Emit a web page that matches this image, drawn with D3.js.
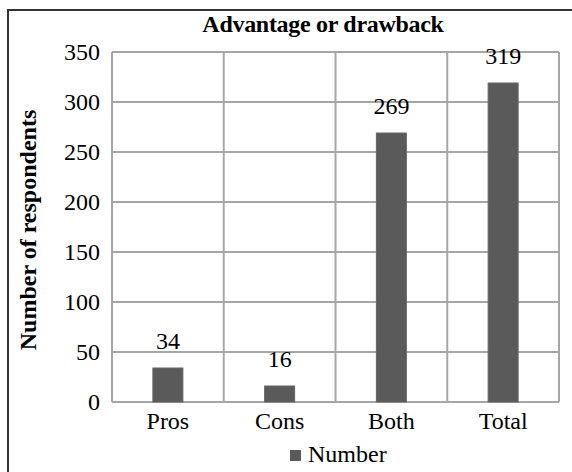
<!DOCTYPE html>
<html>
<head>
<meta charset="utf-8">
<script src="https://cdn.jsdelivr.net/npm/d3@7"></script>
<style>
  html, body { margin: 0; padding: 0; background: #fff; }
  svg { display: block; }
  text { font-family: "Liberation Serif", "Times New Roman", serif; fill: #000; }
</style>
</head>
<body>
<svg id="chart" width="572" height="472"></svg>
<script>
// Survey: advantage or drawback
const categories = ["Pros", "Cons", "Both", "Total"];
const values = [34, 16, 269, 319];
const yTicks = [0, 50, 100, 150, 200, 250, 300, 350];
const seriesName = "Number";
const chartTitle = "Advantage or drawback";
const yTitle = "Number of respondents";

const svg = d3.select("#chart");
const plot = { left: 112, right: 559, top: 52, bottom: 402 };
const fontSize = 24;

// outer frame (extends past the right/bottom edges)
svg.append("rect")
  .attr("x", 8).attr("y", 10)
  .attr("width", 600).attr("height", 500)
  .attr("fill", "#fff")
  .attr("stroke", "#333").attr("stroke-width", 2);

const x = d3.scaleBand().domain(categories).range([plot.left, plot.right]).padding(0);
const y = d3.scaleLinear().domain([0, 350]).range([plot.bottom, plot.top]);

const grid = svg.append("g").attr("stroke", "#a6a6a6").attr("stroke-width", 2).attr("fill", "none");
// horizontal gridlines
grid.selectAll("line.h").data(yTicks).join("line")
  .attr("class", "h")
  .attr("x1", plot.left).attr("x2", plot.right)
  .attr("y1", d => y(d)).attr("y2", d => y(d));
// vertical category separators
const seps = [plot.left].concat(categories.map(c => x(c) + x.bandwidth()));
grid.selectAll("line.v").data(seps).join("line")
  .attr("class", "v")
  .attr("x1", d => d).attr("x2", d => d)
  .attr("y1", plot.top).attr("y2", plot.bottom);

// bars
const barW = 30;
svg.append("g").selectAll("rect").data(values).join("rect")
  .attr("x", (d, i) => x(categories[i]) + x.bandwidth() / 2 - barW / 2)
  .attr("width", barW)
  .attr("y", d => y(d))
  .attr("height", d => y(0) - y(d))
  .attr("fill", "#5a5a5a")
  .attr("stroke", "#666").attr("stroke-width", 1);

// value labels
svg.append("g").selectAll("text").data(values).join("text")
  .attr("x", (d, i) => x(categories[i]) + x.bandwidth() / 2)
  .attr("y", d => y(d) - 19)
  .attr("text-anchor", "middle")
  .attr("font-size", fontSize)
  .text(d => d);

// y axis tick labels
const yAxis = d3.axisLeft(y).tickValues(yTicks).tickSize(0).tickPadding(0);
const yg = svg.append("g").attr("transform", `translate(${plot.left - 12},0)`).call(yAxis);
yg.select(".domain").remove();
yg.selectAll("text").attr("font-size", fontSize).attr("font-family", "Liberation Serif").attr("fill", "#000");

// x axis labels
const xAxis = d3.axisBottom(x).tickSize(0).tickPadding(0);
const xg = svg.append("g").attr("transform", `translate(0,${plot.bottom + 10})`).call(xAxis);
xg.select(".domain").remove();
xg.selectAll("text").attr("font-size", fontSize).attr("font-family", "Liberation Serif").attr("fill", "#000");

// title
svg.append("text")
  .attr("x", 323).attr("y", 32)
  .attr("text-anchor", "middle")
  .attr("font-size", fontSize).attr("font-weight", "bold")
  .attr("letter-spacing", -0.3)
  .text(chartTitle);

// y title
svg.append("text")
  .attr("transform", "translate(36,230) rotate(-90)")
  .attr("text-anchor", "middle")
  .attr("font-size", 24).attr("font-weight", "bold")
  .text(yTitle);

// legend
const lg = svg.append("g").attr("transform", "translate(290,450)");
lg.append("rect").attr("width", 11).attr("height", 11).attr("fill", "#5a5a5a");
lg.append("text").attr("x", 18).attr("y", 12).attr("font-size", fontSize).text(seriesName);
</script>
</body>
</html>
